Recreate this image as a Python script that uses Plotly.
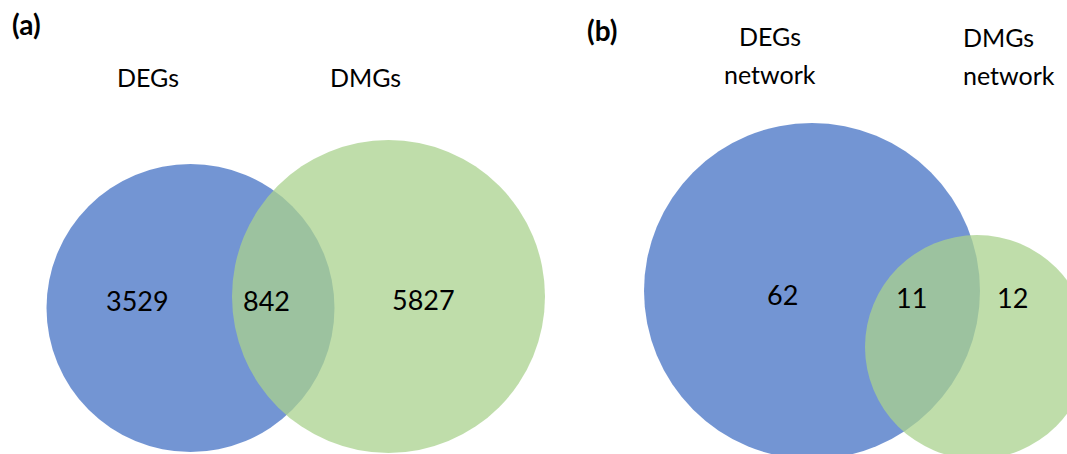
import plotly.graph_objects as go

# ---------------- data ----------------
panel_tags = ["(a)", "(b)"]
set_labels_a = ["DEGs", "DMGs"]
counts_a = [3529, 842, 5827]          # only DEGs, both, only DMGs
set_labels_b = ["DEGs\nnetwork", "DMGs\nnetwork"]
counts_b = [62, 11, 12]               # only DEGs network, both, only DMGs network

# ---------------- layout / geometry (pixel space of the figure) ----------------
W, H = 1067, 454
FONT = "Lato, 'Open Sans', Arial, sans-serif"
BLUE = "rgba(68,114,196,0.75)"
GREEN = "rgba(169,209,142,0.75)"

# circles: (cx, cy, r)
circles_a = [(190.5, 308, 144), (388.5, 296.5, 156.5)]
circles_b = [(812, 291, 168), (977, 347, 112)]

# label placement
tag_pos = [(26.5, 24), (602, 30)]
label_pos_a = [(148, 77, "center"), (365, 77, "center")]
label_pos_b = [(769.5, 36, "center"), (961, 37, "left")]
line_gap_b = 38
count_pos_a = [(137, 300), (266.7, 300), (423.7, 299)]
count_pos_b = [(782.8, 294), (911, 297), (1012.8, 297)]

fig = go.Figure()
shapes = []
for circles in (circles_a, circles_b):
    for (cx, cy, r), col in zip(circles, (BLUE, GREEN)):
        shapes.append(dict(type="circle", xref="x", yref="y",
                           x0=cx - r, x1=cx + r, y0=cy - r, y1=cy + r,
                           fillcolor=col, line=dict(width=0), layer="above"))

ann = []
for t, (x, y) in zip(panel_tags, tag_pos):
    ann.append(dict(x=x, y=y, text="<b>" + t + "</b>", showarrow=False,
                    xref="x", yref="y", xanchor="center", yanchor="middle",
                    font=dict(family=FONT, size=28, color="black")))
for lab, (x, y, al) in zip(set_labels_a, label_pos_a):
    ann.append(dict(x=x, y=y, text=lab, showarrow=False, xref="x", yref="y",
                    xanchor=al, yanchor="middle",
                    font=dict(family=FONT, size=25, color="black")))
for lab, (x, y, al) in zip(set_labels_b, label_pos_b):
    for i, line in enumerate(lab.split("\n")):
        ann.append(dict(x=x, y=y + i * line_gap_b, text=line, showarrow=False,
                        xref="x", yref="y", xanchor=al, yanchor="middle",
                        font=dict(family=FONT, size=25, color="black")))
for vals, poss in ((counts_a, count_pos_a), (counts_b, count_pos_b)):
    for v, (x, y) in zip(vals, poss):
        ann.append(dict(x=x, y=y, text=str(v), showarrow=False, xref="x", yref="y",
                        xanchor="center", yanchor="middle",
                        font=dict(family=FONT, size=27, color="black")))

fig.update_layout(
    width=W, height=H, margin=dict(l=0, r=0, t=0, b=0),
    paper_bgcolor="white", plot_bgcolor="white",
    xaxis=dict(range=[0, W], visible=False, fixedrange=True),
    yaxis=dict(range=[H, 0], visible=False, fixedrange=True),
    shapes=shapes, annotations=ann, showlegend=False,
)
fig.write_html("out.html", config={"displayModeBar": False})
